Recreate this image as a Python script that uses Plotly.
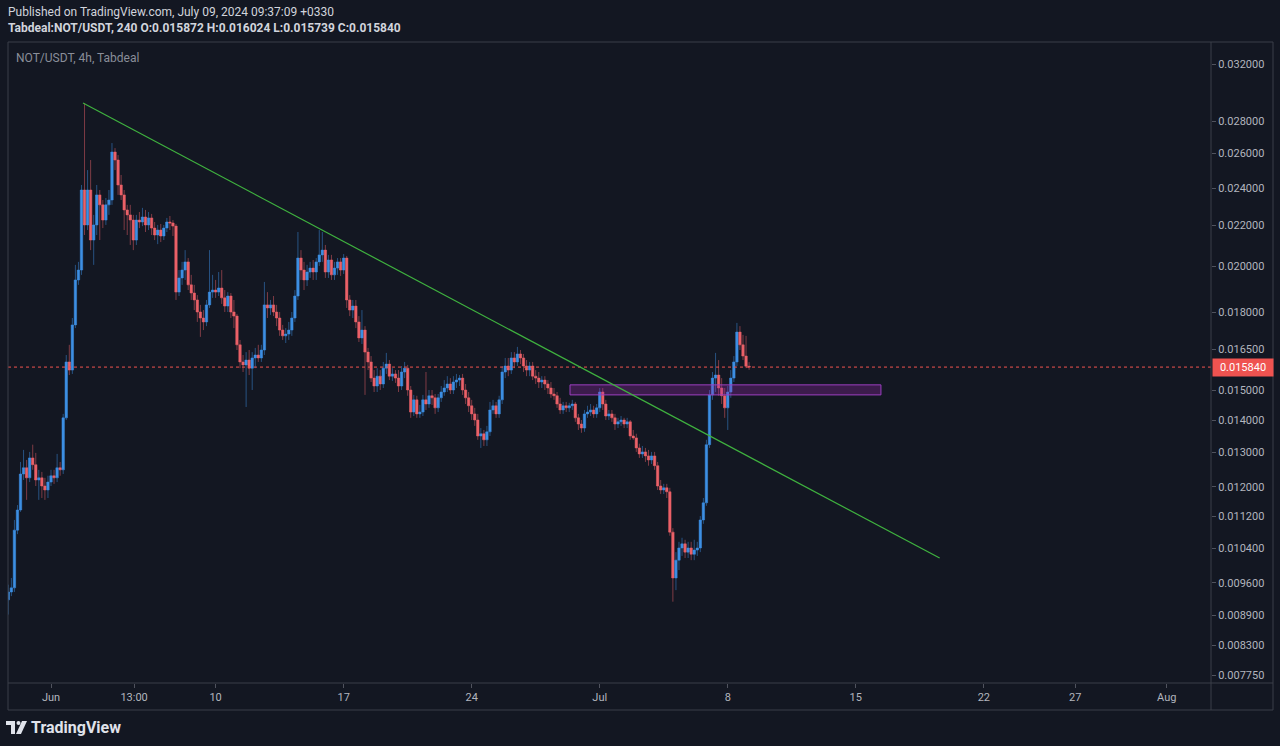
import numpy as np
import pandas as pd
import plotly.graph_objects as go

# ---------------- data (4h candles, NOT/USDT) ----------------
first_open = 0.00923
start_time = "2024-05-29 16:00"

close = [
 0.00940,0.00949,0.01085,0.01137,0.01236,0.01254,0.01225,0.01283,0.01263,0.01219,
 0.01225,0.01202,0.01191,0.01213,0.01231,0.01225,0.01254,0.01248,0.01408,0.01603,
 0.01573,0.01747,0.01939,0.01984,0.02389,0.02203,0.02389,0.02127,0.02203,0.02362,
 0.02308,0.02228,0.02308,0.02334,0.02609,0.02561,0.02417,0.02362,0.02281,0.02255,
 0.02228,0.02127,0.02228,0.02218,0.02244,0.02203,0.02239,0.02187,0.02152,0.02177,
 0.02147,0.02187,0.02218,0.02213,0.02197,0.01885,0.01948,0.01984,0.02022,0.01917,
 0.01881,0.01851,0.01800,0.01775,0.01759,0.01830,0.01885,0.01894,0.01885,0.01903,
 0.01860,0.01825,0.01868,0.01800,0.01783,0.01668,0.01603,0.01592,0.01610,0.01580,
 0.01618,0.01629,0.01618,0.01648,0.01830,0.01817,0.01830,0.01800,0.01775,0.01726,
 0.01703,0.01710,0.01726,0.01775,0.01868,0.02040,0.01984,0.01939,0.01975,0.01993,
 0.01975,0.02022,0.02055,0.02078,0.01975,0.02031,0.01962,0.01993,0.02022,0.01984,
 0.02040,0.01851,0.01808,0.01825,0.01759,0.01695,0.01726,0.01640,0.01603,0.01544,
 0.01516,0.01551,0.01523,0.01580,0.01595,0.01551,0.01559,0.01544,0.01516,0.01566,
 0.01580,0.01502,0.01427,0.01468,0.01421,0.01427,0.01468,0.01454,0.01482,0.01475,
 0.01441,0.01475,0.01495,0.01509,0.01523,0.01502,0.01530,0.01537,0.01544,0.01502,
 0.01475,0.01448,0.01421,0.01401,0.01350,0.01357,0.01338,0.01363,0.01434,0.01448,
 0.01421,0.01468,0.01566,0.01588,0.01573,0.01618,0.01603,0.01633,0.01618,0.01588,
 0.01573,0.01588,0.01551,0.01544,0.01530,0.01537,0.01523,0.01509,0.01488,0.01482,
 0.01454,0.01434,0.01448,0.01441,0.01448,0.01454,0.01408,0.01388,0.01375,0.01421,
 0.01427,0.01434,0.01421,0.01441,0.01495,0.01454,0.01414,0.01421,0.01408,0.01388,
 0.01395,0.01401,0.01388,0.01395,0.01350,0.01344,0.01313,0.01295,0.01301,0.01289,
 0.01277,0.01289,0.01260,0.01202,0.01191,0.01197,0.01186,0.01080,0.00971,0.01012,
 0.01041,0.01051,0.01031,0.01041,0.01026,0.01036,0.01041,0.01111,0.01156,0.01323,
 0.01485,0.01544,0.01555,0.01509,0.01482,0.01441,0.01495,0.01544,0.01603,0.01718,
 0.01668,0.01625,0.015872,0.015840,
]

high = [
 0.00956,0.00971,0.01111,0.01150,0.01271,0.01307,0.01277,0.01301,0.01323,0.01298,
 0.01248,0.01242,0.01225,0.01231,0.01248,0.01248,0.01295,0.01271,0.01421,0.01629,
 0.01668,0.01775,0.02008,0.02022,0.02417,0.02923,0.02502,0.02561,0.02255,0.02417,
 0.02389,0.02334,0.02345,0.02389,0.02664,0.02633,0.02591,0.02474,0.02389,0.02308,
 0.02308,0.02255,0.02255,0.02270,0.02292,0.02281,0.02270,0.02260,0.02218,0.02203,
 0.02208,0.02203,0.02239,0.02249,0.02228,0.02208,0.01984,0.02022,0.02078,0.02040,
 0.01962,0.01917,0.01872,0.01830,0.01808,0.01851,0.02078,0.01962,0.01939,0.01975,
 0.01984,0.01894,0.01885,0.01881,0.01851,0.01792,0.01687,0.01629,0.01640,0.01648,
 0.01640,0.01656,0.01668,0.01668,0.01930,0.01885,0.01851,0.01868,0.01830,0.01800,
 0.01747,0.01734,0.01759,0.01800,0.01894,0.02167,0.02078,0.02022,0.02008,0.02022,
 0.02031,0.02040,0.02177,0.02167,0.02103,0.02055,0.02055,0.02022,0.02040,0.02040,
 0.02059,0.02050,0.01872,0.01851,0.01851,0.01783,0.01808,0.01742,0.01656,0.01625,
 0.01573,0.01580,0.01573,0.01603,0.01637,0.01610,0.01580,0.01573,0.01573,0.01588,
 0.01603,0.01592,0.01516,0.01485,0.01482,0.01451,0.01485,0.01566,0.01502,0.01502,
 0.01488,0.01488,0.01516,0.01537,0.01551,0.01544,0.01551,0.01559,0.01555,0.01559,
 0.01523,0.01495,0.01468,0.01441,0.01421,0.01375,0.01369,0.01382,0.01461,0.01468,
 0.01461,0.01482,0.01588,0.01618,0.01618,0.01640,0.01640,0.01660,0.01648,0.01633,
 0.01610,0.01603,0.01603,0.01573,0.01566,0.01551,0.01551,0.01537,0.01530,0.01509,
 0.01495,0.01475,0.01461,0.01461,0.01458,0.01468,0.01461,0.01421,0.01401,0.01434,
 0.01448,0.01454,0.01448,0.01454,0.01509,0.01509,0.01468,0.01434,0.01434,0.01421,
 0.01408,0.01414,0.01408,0.01408,0.01401,0.01369,0.01357,0.01326,0.01319,0.01313,
 0.01307,0.01301,0.01301,0.01271,0.01219,0.01208,0.01208,0.01197,0.01090,0.01031,
 0.01056,0.01066,0.01061,0.01056,0.01056,0.01061,0.01056,0.01121,0.01169,0.01338,
 0.01502,0.01566,0.01637,0.01610,0.01544,0.01509,0.01516,0.01573,0.01625,0.01755,
 0.01742,0.01707,0.01703,0.016024,
]

low = [
 0.00892,0.00931,0.00940,0.01075,0.01132,0.01219,0.01164,0.01213,0.01248,0.01202,
 0.01164,0.01169,0.01164,0.01169,0.01202,0.01208,0.01213,0.01231,0.01236,0.01401,
 0.01555,0.01559,0.01734,0.01917,0.01962,0.02152,0.02177,0.02078,0.02008,0.02152,
 0.02127,0.02187,0.02203,0.02255,0.02308,0.02502,0.02362,0.02334,0.02177,0.02152,
 0.02103,0.02078,0.02103,0.02187,0.02197,0.02167,0.02177,0.02152,0.02127,0.02107,
 0.02117,0.02127,0.02167,0.02177,0.02147,0.01851,0.01868,0.01917,0.01939,0.01894,
 0.01851,0.01808,0.01759,0.01699,0.01726,0.01742,0.01817,0.01860,0.01860,0.01868,
 0.01834,0.01800,0.01800,0.01775,0.01734,0.01648,0.01580,0.01566,0.01444,0.01555,
 0.01502,0.01580,0.01603,0.01603,0.01629,0.01775,0.01788,0.01783,0.01742,0.01703,
 0.01687,0.01675,0.01687,0.01703,0.01759,0.01851,0.01939,0.01894,0.01912,0.01948,
 0.01939,0.01939,0.02003,0.02022,0.01948,0.01948,0.01939,0.01939,0.01962,0.01957,
 0.01966,0.01817,0.01783,0.01775,0.01734,0.01679,0.01671,0.01485,0.01573,0.01530,
 0.01495,0.01495,0.01502,0.01509,0.01559,0.01537,0.01534,0.01527,0.01495,0.01502,
 0.01544,0.01482,0.01408,0.01414,0.01408,0.01408,0.01414,0.01434,0.01441,0.01451,
 0.01421,0.01427,0.01461,0.01482,0.01495,0.01488,0.01488,0.01509,0.01516,0.01485,
 0.01454,0.01427,0.01401,0.01382,0.01338,0.01313,0.01319,0.01319,0.01350,0.01421,
 0.01408,0.01408,0.01454,0.01544,0.01551,0.01559,0.01580,0.01588,0.01595,0.01566,
 0.01551,0.01551,0.01537,0.01523,0.01509,0.01509,0.01502,0.01488,0.01475,0.01468,
 0.01441,0.01421,0.01421,0.01427,0.01427,0.01434,0.01395,0.01369,0.01360,0.01363,
 0.01408,0.01414,0.01408,0.01408,0.01427,0.01434,0.01401,0.01401,0.01395,0.01369,
 0.01375,0.01382,0.01375,0.01375,0.01338,0.01338,0.01301,0.01283,0.01283,0.01271,
 0.01260,0.01265,0.01248,0.01191,0.01180,0.01180,0.01169,0.01071,0.00919,0.00944,
 0.00989,0.01022,0.01017,0.01017,0.01012,0.01012,0.01022,0.01031,0.01101,0.01148,
 0.01313,0.01468,0.01495,0.01482,0.01454,0.01408,0.01369,0.01475,0.01530,0.01588,
 0.01648,0.01610,0.01580,0.015739,
]

# drawings
trend_time = ["2024-06-02 18:00", "2024-07-19 14:00"]
trend_price = [0.02923, 0.01017]
zone_time = ["2024-06-29 09:00", "2024-07-16 09:00"]
zone_price = [0.01485, 0.01520]

# axes
x_range = ["2024-05-29 15:34", "2024-08-03 10:05"]
y_range = [0.00761, 0.03368]
y_ticks = [0.032, 0.028, 0.026, 0.024, 0.022, 0.020, 0.018, 0.0165, 0.015,
           0.014, 0.013, 0.012, 0.0112, 0.0104, 0.0096, 0.0089, 0.0083, 0.00775]
x_tick_vals = ["2024-06-01", "2024-06-05 13:00", "2024-06-10", "2024-06-17", "2024-06-24",
               "2024-07-01", "2024-07-08", "2024-07-15", "2024-07-22", "2024-07-27", "2024-08-01"]
x_tick_text = ["Jun", "13:00", "10", "17", "24", "Jul", "8", "15", "22", "27", "Aug"]

# ---------------- figure ----------------
n = min(len(close), len(high), len(low))
close, high, low = close[:n], high[:n], low[:n]
opens = [first_open] + close[:-1]
times = pd.date_range(start_time, periods=n, freq="4h")

BG = "#131722"
UP = "#3d8fe3"
DOWN = "#eb6168"
FRAME = "#3a3e49"
TXT = "#b2b5be"
FONT = "Roboto, Open Sans, sans-serif"

fig = go.Figure()

fig.add_trace(go.Scatter(
    x=[zone_time[0], zone_time[1], zone_time[1], zone_time[0], zone_time[0]],
    y=[zone_price[0], zone_price[0], zone_price[1], zone_price[1], zone_price[0]],
    mode="lines", fill="toself", fillcolor="rgba(156,39,176,0.30)",
    line=dict(color="#9c3fc0", width=1), hoverinfo="skip"))

fig.add_trace(go.Scatter(
    x=x_range, y=[close[-1], close[-1]], mode="lines",
    line=dict(color="#ef5350", width=1, dash="dot"), hoverinfo="skip"))

fig.add_trace(go.Candlestick(
    x=times, open=opens, high=high, low=low, close=close,
    increasing=dict(line=dict(color=UP, width=0.5), fillcolor=UP),
    decreasing=dict(line=dict(color=DOWN, width=0.5), fillcolor=DOWN),
    whiskerwidth=0))

fig.add_trace(go.Scatter(
    x=trend_time, y=trend_price, mode="lines",
    line=dict(color="#3fb23f", width=1.2), hoverinfo="skip"))

shapes = []
def pline(x0, y0, x1, y1):
    shapes.append(dict(type="line", xref="paper", yref="paper", x0=x0, y0=y0, x1=x1, y1=y1,
                       line=dict(color=FRAME, width=1)))
xr = (1273 - 8) / 1203
yb = (683 - 710) / 641
pline(0, 1, xr, 1)
pline(0, 0, xr, 0)
pline(0, yb, xr, yb)
pline(0, yb, 0, 1)
pline(1, yb, 1, 1)
pline(xr, yb, xr, 1)

# TradingView logo icon
def px(v):
    return (v - 8) / 1203
def py(v):
    return (683 - v) / 641
logo_col = "#e0e3eb"
shapes.append(dict(type="path", xref="paper", yref="paper", fillcolor=logo_col, line=dict(width=0),
                   path=f"M {px(6)},{py(721)} L {px(15)},{py(721)} L {px(15)},{py(734)} L {px(11)},{py(734)} "
                        f"L {px(11)},{py(725)} L {px(6)},{py(725)} Z"))
shapes.append(dict(type="circle", xref="paper", yref="paper", fillcolor=logo_col, line=dict(width=0),
                   x0=px(16.5), x1=px(20.5), y0=py(725), y1=py(721)))
shapes.append(dict(type="path", xref="paper", yref="paper", fillcolor=logo_col, line=dict(width=0),
                   path=f"M {px(22)},{py(721)} L {px(27)},{py(721)} L {px(21)},{py(734)} L {px(16)},{py(734)} Z"))

annotations = [
    dict(xref="paper", yref="paper", x=px(6), y=py(12), xanchor="left", yanchor="middle",
         text="Published on TradingView.com, July 09, 2024 09:37:09 +0330",
         showarrow=False, font=dict(family=FONT, size=12, color="#d1d4dc")),
    dict(xref="paper", yref="paper", x=px(6), y=py(28), xanchor="left", yanchor="middle",
         text="<b>Tabdeal:NOT/USDT, 240 O:0.015872 H:0.016024 L:0.015739 C:0.015840</b>",
         showarrow=False, font=dict(family=FONT, size=12, color="#d1d4dc")),
    dict(xref="paper", yref="paper", x=px(14), y=py(58), xanchor="left", yanchor="middle",
         text="NOT/USDT, 4h, Tabdeal", showarrow=False,
         font=dict(family=FONT, size=12, color="#8a8e99")),
    dict(xref="paper", yref="paper", x=px(29), y=py(727), xanchor="left", yanchor="middle",
         text="<b>TradingView</b>", showarrow=False,
         font=dict(family=FONT, size=16, color=logo_col)),
    dict(xref="paper", yref="y", x=1, y=np.log10(close[-1]), xanchor="left", yanchor="middle",
         text=f"{close[-1]:.6f}", showarrow=False, bgcolor="#ef5350", borderpad=2,
         width=56, align="center", xshift=1,
         font=dict(family=FONT, size=11, color="#ffffff")),
]

fig.update_layout(
    width=1280, height=746,
    margin=dict(l=8, r=69, t=42, b=63),
    paper_bgcolor=BG, plot_bgcolor=BG,
    showlegend=False,
    boxgap=0.2, boxgroupgap=0,
    font=dict(family=FONT, size=11, color=TXT),
    shapes=shapes, annotations=annotations,
    xaxis=dict(type="date", range=x_range, rangeslider=dict(visible=False),
               showgrid=False, zeroline=False, showline=False,
               tickmode="array", tickvals=x_tick_vals, ticktext=x_tick_text,
               ticks="outside", ticklen=4, tickcolor="#50535e",
               tickfont=dict(family=FONT, size=11, color=TXT)),
    yaxis=dict(type="log", range=[np.log10(y_range[0]), np.log10(y_range[1])], side="right",
               showgrid=False, zeroline=False, showline=False,
               tickmode="array", tickvals=y_ticks, ticktext=[f"{v:.6f}" for v in y_ticks],
               ticks="outside", ticklen=4, tickcolor="#50535e",
               tickfont=dict(family=FONT, size=11, color=TXT)),
)

fig.write_html("out.html", config={"displayModeBar": False},
               post_script="document.body.style.margin='0';document.body.style.background='#131722';")
